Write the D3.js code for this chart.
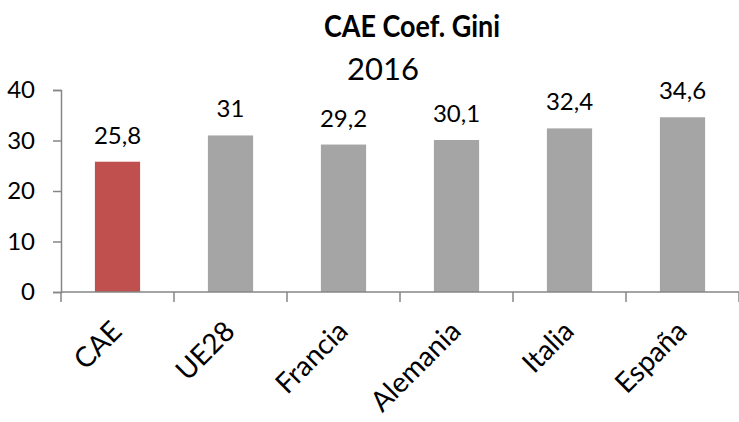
<!DOCTYPE html>
<html>
<head>
<meta charset="utf-8">
<script src="https://cdn.jsdelivr.net/npm/d3@7"></script>
<style>
  body { margin: 0; background: #fff; }
  svg { display: block; font-family: Lato, "Open Sans", sans-serif; }
</style>
</head>
<body>
<svg id="chart" width="739" height="422"></svg>
<script>
const countries = ['CAE', 'UE28', 'Francia', 'Alemania', 'Italia', 'España']
const gini = [25.8, 31, 29.2, 30.1, 32.4, 34.6]
const barColors = ['#C0504D', '#A5A5A5', '#A5A5A5', '#A5A5A5', '#A5A5A5', '#A5A5A5']
const yTicks = [0, 10, 20, 30, 40]

const svg = d3.select('#chart')
const plotLeft = 61, plotRight = 739, plotTop = 90, plotBottom = 292

const x = d3.scaleBand()
  .domain(countries)
  .range([plotLeft, plotRight])
  .paddingInner(0.6)
  .paddingOuter(0.3)

const y = d3.scaleLinear()
  .domain([0, 40])
  .range([plotBottom, plotTop])

// title
svg.append('text')
  .attr('x', 412).attr('y', 37)
  .attr('text-anchor', 'middle')
  .attr('font-size', 31).attr('font-weight', 'bold')
  .attr('textLength', 176).attr('lengthAdjust', 'spacingAndGlyphs')
  .text('CAE Coef. Gini')

svg.append('text')
  .attr('x', 383).attr('y', 80)
  .attr('text-anchor', 'middle')
  .attr('font-size', 31)
  .text('2016')

// bars
svg.selectAll('rect.bar')
  .data(countries)
  .enter()
  .append('rect')
  .attr('class', 'bar')
  .attr('x', d => x(d))
  .attr('width', x.bandwidth())
  .attr('y', (d, i) => y(gini[i]))
  .attr('height', (d, i) => y(0) - y(gini[i]))
  .attr('fill', (d, i) => barColors[i])

// value labels
svg.selectAll('text.val')
  .data(countries)
  .enter()
  .append('text')
  .attr('class', 'val')
  .attr('x', d => x(d) + x.bandwidth() / 2)
  .attr('y', (d, i) => y(gini[i]) - 18)
  .attr('text-anchor', 'middle')
  .attr('font-size', 24)
  .text((d, i) => String(gini[i]).replace('.', ','))

// y axis
const yAxis = svg.append('g')
  .attr('transform', `translate(${plotLeft},0)`)
  .call(d3.axisLeft(y).tickValues(yTicks).tickSize(8).tickPadding(18))
yAxis.selectAll('text').attr('font-size', 24).attr('fill', '#000').attr('font-family', 'Lato, sans-serif')
yAxis.selectAll('path, line').attr('stroke', '#868686').attr('stroke-width', 1.5)

// x axis, ticks between categories
const xTickPos = d3.range(countries.length + 1).map(i => plotLeft + i * (plotRight - plotLeft) / countries.length)
const xAxis = svg.append('g')
  .attr('transform', `translate(0,${plotBottom})`)
xAxis.append('line')
  .attr('x1', plotLeft).attr('x2', plotRight)
  .attr('stroke', '#868686').attr('stroke-width', 1.5)
xAxis.selectAll('line.tick')
  .data(xTickPos)
  .enter()
  .append('line')
  .attr('class', 'tick')
  .attr('x1', d => d).attr('x2', d => d)
  .attr('y1', 0).attr('y2', 10)
  .attr('stroke', '#868686').attr('stroke-width', 1.5)

xAxis.selectAll('text.cat')
  .data(countries)
  .enter()
  .append('text')
  .attr('class', 'cat')
  .attr('text-anchor', 'end')
  .attr('font-size', 28)
  .attr('transform', d => `translate(${x(d) + x.bandwidth() / 2 + 6},${41}) rotate(-45)`)
  .text(d => d)
</script>
</body>
</html>
